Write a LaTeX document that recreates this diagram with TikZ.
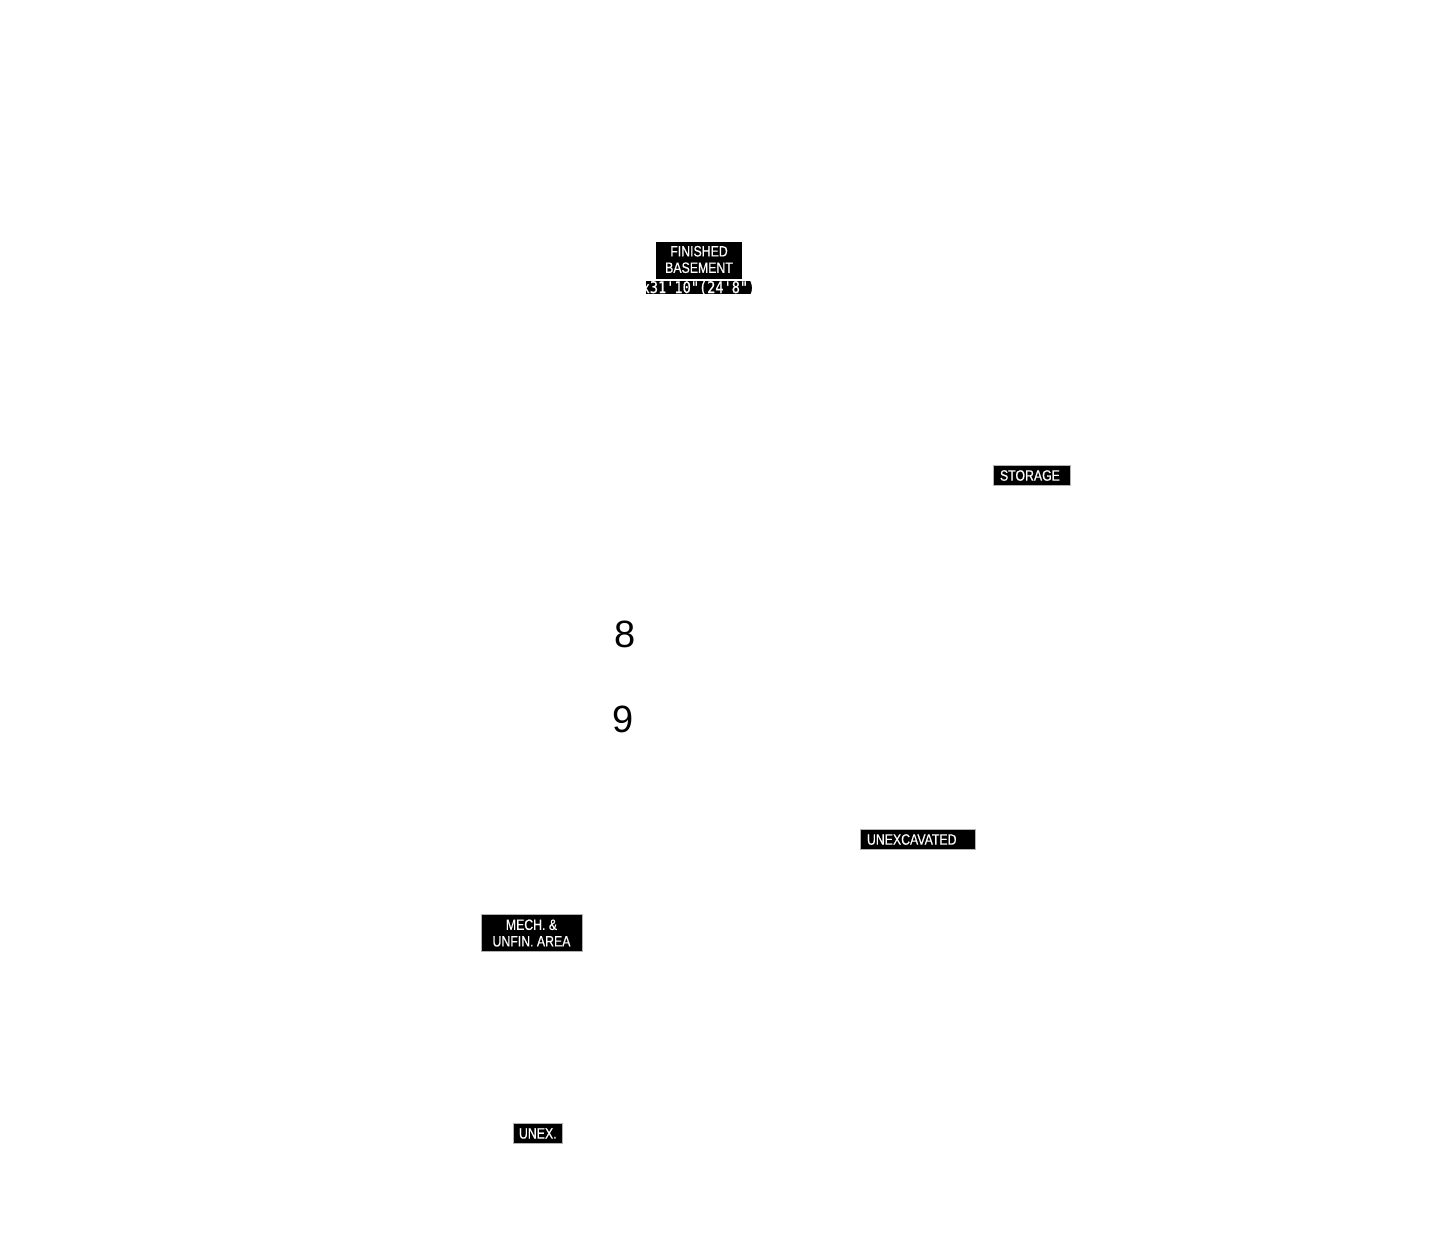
\documentclass[tikz,border=0pt]{standalone}
\usepackage{fontspec}
\setmainfont{Liberation Sans}
\newfontfamily\labelfont[FakeStretch=0.82,FakeBold=0.6]{Liberation Sans}
\newfontfamily\dimfont[FakeStretch=0.85,FakeBold=0.8]{DejaVu Sans Mono}
\begin{document}
\begin{tikzpicture}[x=1pt,y=-1pt,
  lbl/.style={fill=black,text=white,font=\labelfont\fontsize{15}{16.5}\selectfont,inner sep=0pt,align=center},
  edge/.style={draw=gray!60,line width=0.6pt},
  big/.style={text=black,font=\fontsize{38}{40}\selectfont,inner sep=0pt}]
\useasboundingbox (0,0) rectangle (1454,1241);
% FINISHED BASEMENT
\fill[black] (656,242) rectangle (742,279);
\node[lbl,fill=none,minimum width=86,minimum height=37] (fin) at (699,259.5) {FINISHED\\BASEMENT};
\begin{scope}
\clip (646,281) rectangle (752,294);
\fill[black] (646,281) rectangle (752,294);
\node[text=white,font=\dimfont\fontsize{16}{16}\selectfont,inner sep=0pt] (dim) at (699,288) {x31'10"(24'8")};
\end{scope}
% STORAGE
\node[lbl,edge,minimum width=77,minimum height=20,text width=63,align=left] (sto) at (1031.5,475.5) {STORAGE};
% numbers
\node[big] (n8) at (625,634) {8};
\node[big] (n9) at (623,719) {9};
% UNEXCAVATED
\node[lbl,edge,minimum width=115,minimum height=20,text width=101,align=left] (unx) at (917.5,839.5) {UNEXCAVATED};
% MECH
\node[lbl,edge,minimum width=101,minimum height=37] (mech) at (531.5,933) {MECH. \&\\UNFIN. AREA};
% UNEX.
\node[lbl,edge,minimum width=49,minimum height=20,text width=37,align=left] (unex) at (537.5,1133.5) {UNEX.};
\end{tikzpicture}
\end{document}
